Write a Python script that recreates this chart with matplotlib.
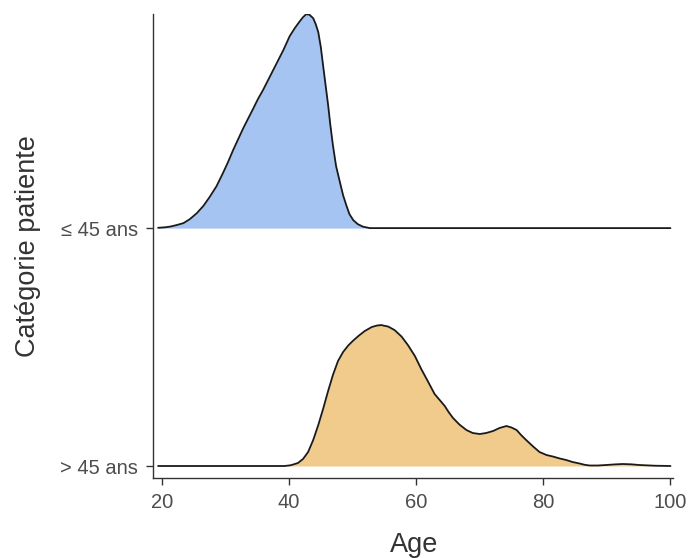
import matplotlib
matplotlib.use("Agg")
import matplotlib.pyplot as plt
import numpy as np

categories = ["> 45 ans", "\u2264 45 ans"]
x_label = "Age"
y_label = "Cat\u00e9gorie patiente"
x_ticks = [20, 40, 60, 80, 100]

# density curve of the "<= 45 ans" group (age, relative height)
young_age = [19.4, 20.5, 21.3, 22.3, 23.4, 24.4, 25.5, 26.5, 27.5, 28.6, 29.6, 30.4, 31.2,
             32.0, 32.8, 33.6, 34.4, 35.1, 35.9, 36.7, 37.5, 38.3, 39.1, 39.6, 40.1,
             40.9, 41.7, 42.2, 42.7, 43.2, 43.8, 44.2, 44.6, 45.0, 45.35, 45.75, 46.15,
             46.5, 46.9, 47.4, 48.0, 48.5, 49.0, 49.5, 50.1, 50.8, 51.6, 52.7, 60.0,
             80.0, 100.0]
young_h = [0.3, 0.8, 1.5, 3, 5, 9, 15, 22, 31, 42, 55, 66, 78,
           89, 100, 110, 120, 129, 138, 148, 158, 168, 178, 185, 192,
           200, 207, 211, 214, 213.5, 210, 204, 196, 181, 163, 143, 123,
           103, 83, 62, 46, 33, 23, 14, 8, 4, 1.5, 0, 0,
           0, 0]

# density curve of the "> 45 ans" group
old_age = [19.4, 30.0, 39.3, 40.3, 41.4, 42.2, 43.0, 43.8, 44.6, 45.4, 46.1, 46.9, 47.7,
           48.5, 49.3, 50.1, 50.9, 51.9, 53.0, 53.8, 54.5, 55.6, 56.6, 57.7, 58.7,
           59.8, 60.8, 61.9, 62.9, 63.7, 64.5, 65.1, 65.8, 66.8, 67.9, 68.9, 70.0,
           71.0, 72.1, 73.1, 74.2, 75.0, 75.8, 76.5, 77.3, 78.4, 79.4, 80.5, 81.5,
           82.6, 83.6, 84.6, 85.7, 86.5, 87.3, 88.6, 89.9, 91.2, 92.5, 93.8, 95.1,
           97.5, 100.0]
old_h = [0, 0, 0, 0.8, 3, 7, 14, 26, 41, 58, 74, 91, 105,
         114, 120.5, 125.5, 130, 135, 139, 140.5, 141, 139.5, 136, 129.5, 121,
         110, 97, 84, 72, 66, 60, 54, 48, 41.5, 36, 33, 32,
         33, 35, 38, 40, 38.5, 36, 31, 26, 19.5, 14, 11, 9.5,
         7.5, 6, 4, 2.5, 1.2, 0.5, 0.5, 1, 1.6, 2, 1.7, 1,
         0.3, 0]

fill_colors = ["#f0cb8b", "#a5c4f1"]
px_unit = 238.0  # pixel height of one category step in the reference

fig = plt.figure(figsize=(6.93, 5.58), dpi=100)
ax = fig.add_axes([153/693, 1-478/558, 520/693, 464/558])

font = "Liberation Sans"
series = [(old_age, old_h), (young_age, young_h)]
for i, (ages, hs) in enumerate(series):
    base = i + 1
    ys = base + np.asarray(hs, dtype=float) / px_unit
    ax.fill_between(ages, base, ys, color=fill_colors[i], lw=0, zorder=2*i + 1)
    ax.plot(ages, ys, color="#1a1a1a", lw=1.3, zorder=2*i + 2,
            solid_joinstyle="round", solid_capstyle="round")

ax.set_xlim(18.6, 100.4)
ax.set_ylim(1 - 12/px_unit, 2.9)
ax.set_yticks([1, 2])
ax.set_yticklabels(categories)
ax.set_xticks(x_ticks)
ax.set_xticklabels([str(t) for t in x_ticks])

for s in ["top", "right"]:
    ax.spines[s].set_visible(False)
for s in ["left", "bottom"]:
    ax.spines[s].set_color("#333333")
    ax.spines[s].set_linewidth(1.0)

ax.tick_params(axis="both", length=5, width=1.0, color="#333333",
               labelcolor="#4d4d4d", labelsize=14.5)
ax.tick_params(axis="x", pad=6)
ax.tick_params(axis="y", pad=6)
for lab in ax.get_xticklabels() + ax.get_yticklabels():
    lab.set_fontfamily(font)

fig.text(414/693, 1 - 545/558, x_label, fontsize=19.5, color="#333333",
         fontfamily=font, ha="center", va="center")
fig.text(28/693, 1 - 246/558, y_label, fontsize=19.5, color="#333333",
         fontfamily=font, ha="center", va="center", rotation=90)

fig.savefig("out.png", dpi=100, facecolor="white")
